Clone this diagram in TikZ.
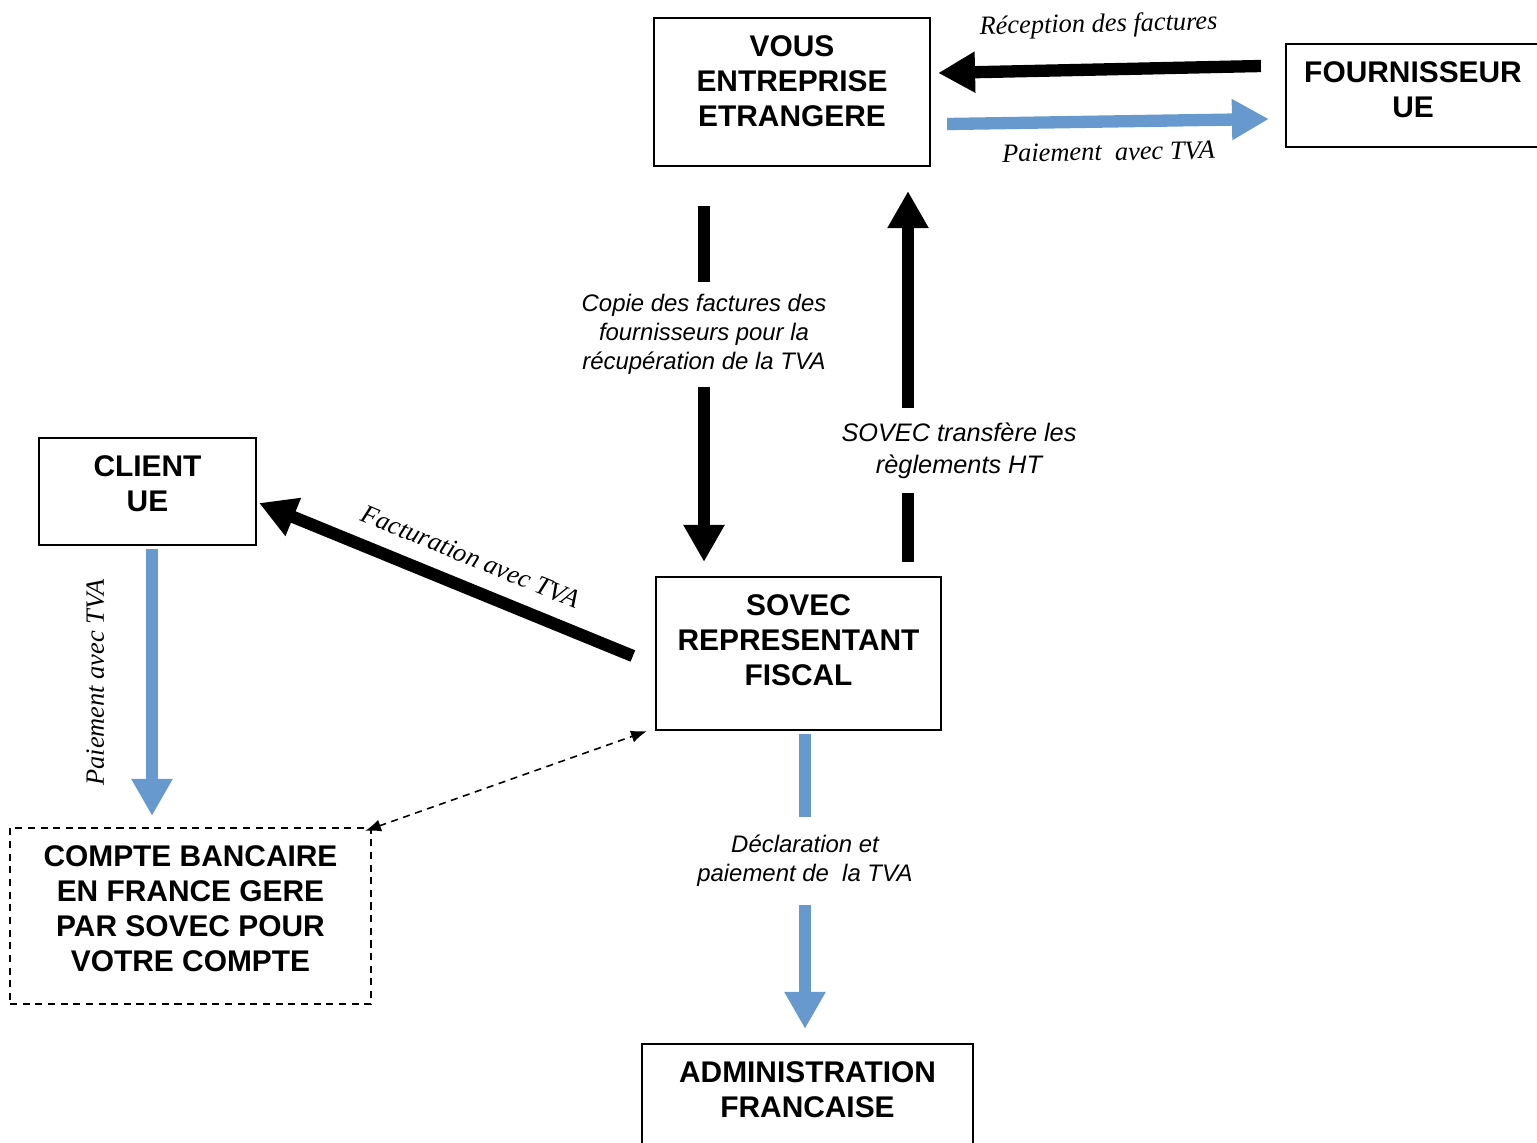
\documentclass[tikz,border=0pt]{standalone}
\usepackage{fontspec}
\setmainfont{Liberation Serif}
\setsansfont{Liberation Sans}
\usetikzlibrary{arrows.meta}
\definecolor{paybl}{RGB}{103,153,206}

\begin{document}
\begin{tikzpicture}
	[x=0.01cm,y=-0.01cm,
	box/.style={draw,line width=0.6pt,align=center,font=\sffamily\bfseries\fontsize{8.5}{10}\selectfont},
	blk/.style={line width=3.5pt,-{Triangle[length=10.5pt,width=11pt]}},
	blu/.style={blk,paybl},
	tlab/.style={text=black,font=\rmfamily\itshape\fontsize{7.5}{9}\selectfont},
	slab/.style={text=black,font=\sffamily\itshape\fontsize{6.8}{8.2}\selectfont,align=center,fill=white}]
	\useasboundingbox (0,0) rectangle (1537,1142);
	\node[box, minimum width=2.76cm, minimum height=1.48cm, text depth=6.3pt] (vous) at (792,92) {VOUS\\ENTREPRISE\\ETRANGERE};
	\node[box, minimum width=2.54cm, minimum height=1.03cm, text depth=3.4pt] (four) at (1413,95.5) {FOURNISSEUR\\UE};
	\node[box, minimum width=2.17cm, minimum height=1.07cm, text depth=4.6pt] (client) at (147.5,491.5) {CLIENT\\UE};
	\node[box, minimum width=2.85cm, minimum height=1.53cm, text depth=7.7pt] (sovec) at (798.5,653.5) {SOVEC\\REPRESENTANT\\FISCAL};
	\node[box, dash pattern=on 2pt off 1.6pt, minimum width=3.61cm, minimum height=1.76cm, text depth=4.3pt] (compte) at (190.5,916) {COMPTE BANCAIRE\\EN FRANCE GERE\\PAR SOVEC POUR\\VOTRE COMPTE};
	\node[box, minimum width=3.31cm, minimum height=1.5cm, text depth=16.8pt] (admin) at (807.5,1119) {ADMINISTRATION\\FRANCAISE};
	
	\draw[blk] ([shift={(-24,-29.5)}]four.west) -- ([shift={(7,-19)}]vous.east) node[tlab,midway,sloped,above=4pt] {Réception des factures};
	\draw[blu] ([shift={(16,32)}]vous.east) -- ([shift={(-16,23.5)}]four.west) node[tlab,midway,sloped,below=1pt] {Paiement\ \ avec TVA};
	\draw[blk] ([shift={(-88,39)}]vous.south) -- ([shift={(-94.5,-14)}]sovec.north) node[slab,pos=.36,inner ysep=3.6pt] {Copie des factures des\\fournisseurs pour la\\récupération de la TVA};
	\draw[blk] ([shift={(109.5,-14)}]sovec.north) -- ([shift={(116,24)}]vous.south) node[slab,pos=.3,xshift=14.5pt,inner ysep=4.1pt,font=\sffamily\itshape\fontsize{7.2}{9.1}\selectfont] {SOVEC transfère les\\règlements HT};
	\draw[blk] ([shift={(-22,2.5)}]sovec.west) -- ([shift={(2,11.5)}]client.east) node[tlab,pos=.465,sloped,above=1pt] {Facturation avec TVA};
	\draw[blu] ([shift={(4.5,3)}]client.south) -- ([shift={(-38.5,-11)}]compte.north) node[tlab,midway,rotate=90,above=8.5pt] {Paiement avec TVA};
	\draw[blu] ([shift={(6.5,3)}]sovec.south) -- ([shift={(-2.5,-14)}]admin.north) node[slab,pos=.43,inner ysep=5.3pt] {Déclaration et\\paiement de\ \ la TVA};
	\draw[dashed,dash pattern=on 2pt off 1.6pt,line width=0.45pt,{Latex[length=4.5pt,width=3.5pt]}-{Latex[length=4.5pt,width=3.5pt]}] ([shift={(-7,4)}]compte.north east) -- ([shift={(-8,0)}]sovec.south west);
\end{tikzpicture}
\end{document}
